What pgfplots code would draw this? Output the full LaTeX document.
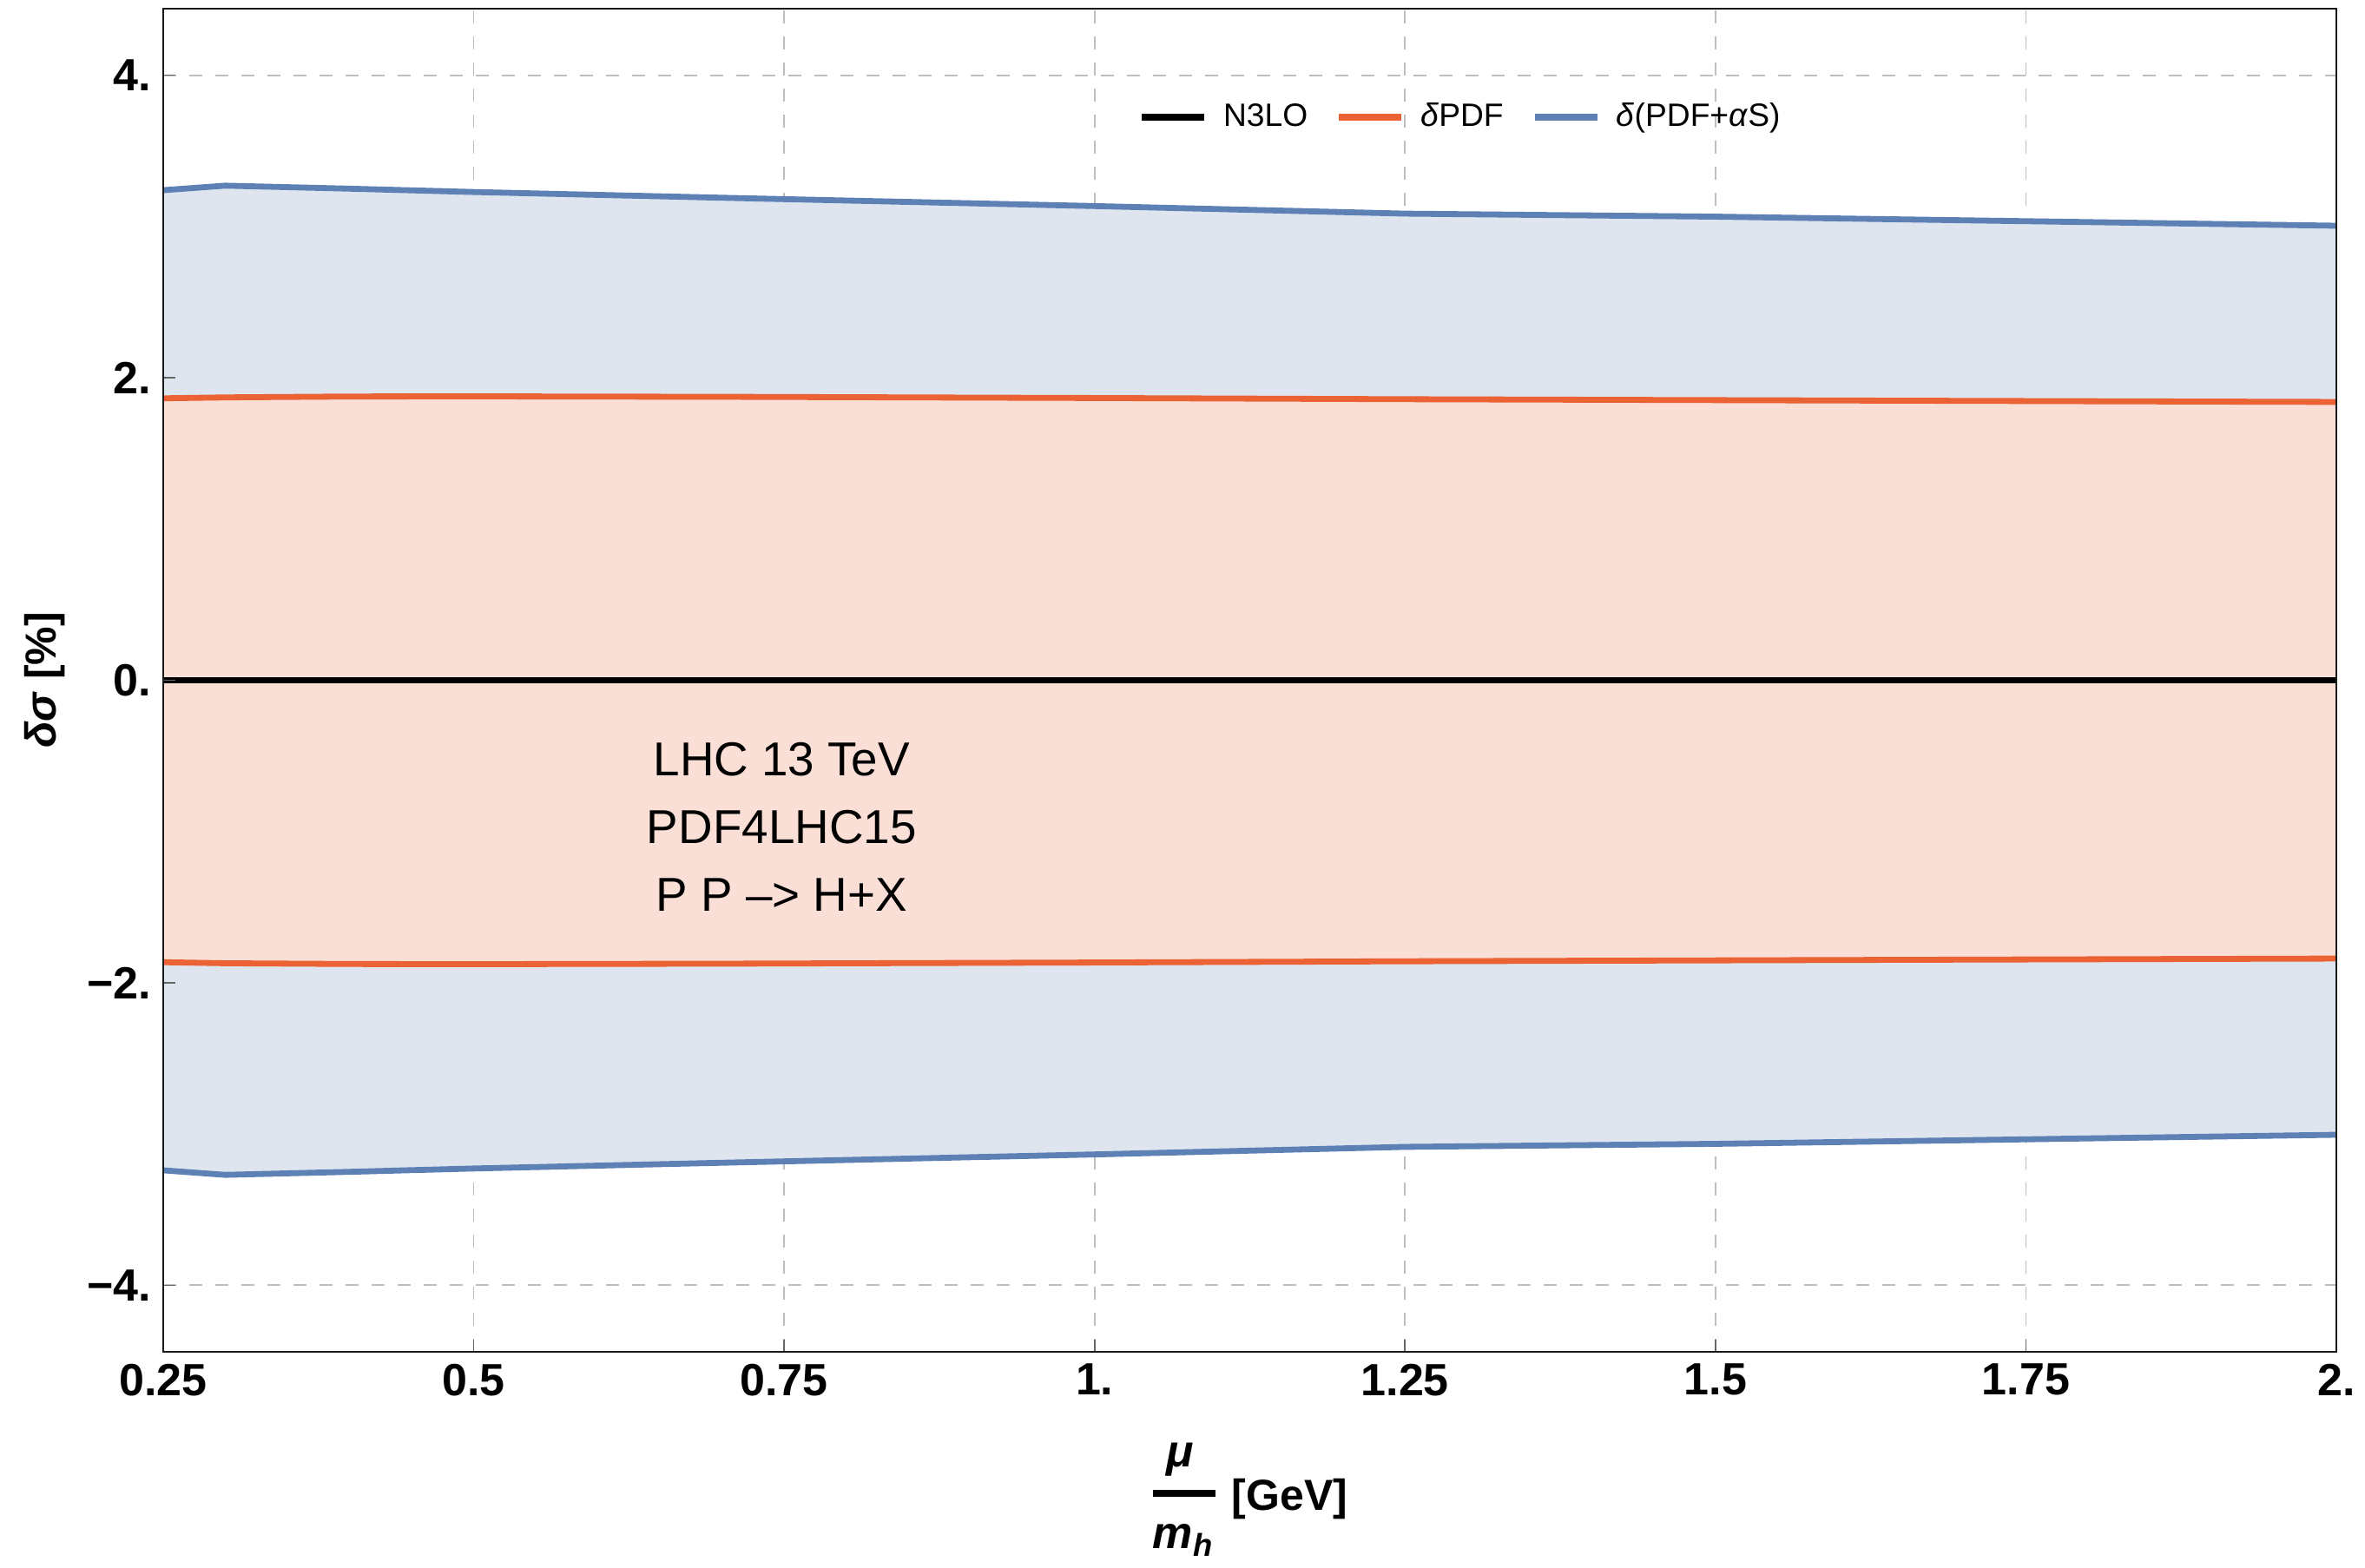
\documentclass[border=0pt]{standalone}
\usepackage{fontspec}
\setmainfont{Liberation Sans}
\usepackage{pgfplots}
\usepackage{pgfplotstable}
\pgfplotsset{compat=1.18}
\usepgfplotslibrary{fillbetween}
\definecolor{mblue}{HTML}{5E81B5}
\definecolor{morange}{HTML}{EB6235}
\definecolor{bluefill}{RGB}{223,229,239}
\definecolor{orangefill}{RGB}{250,223,215}
\definecolor{gridgray}{RGB}{190,190,190}
\pgfplotsset{
  layers/gridbelow/.define layer set={
    axis background,axis grid,pre main,main,axis ticks,axis lines,axis tick labels,axis descriptions,axis foreground
  }{
    grid style={/pgfplots/on layer=axis grid},
    tick style={/pgfplots/on layer=axis ticks},
    axis line style={/pgfplots/on layer=axis lines},
    label style={/pgfplots/on layer=axis descriptions},
    legend style={/pgfplots/on layer=axis descriptions},
    title style={/pgfplots/on layer=axis descriptions},
    colorbar style={/pgfplots/on layer=axis descriptions},
    ticklabel style={/pgfplots/on layer=axis tick labels},
    axis background@ style={/pgfplots/on layer=axis background},
    3d box foreground style={/pgfplots/on layer=axis foreground},
  },
}
\pgfplotstableread{
x    bup    bdn     oup    odn
0.25 3.240 -3.240  1.864 -1.864
0.30 3.270 -3.270  1.870 -1.871
0.40 3.250 -3.250  1.876 -1.876
0.50 3.228 -3.228  1.877 -1.877
0.70 3.190 -3.190  1.874 -1.874
1.00 3.135 -3.135  1.866 -1.866
1.25 3.085 -3.085  1.858 -1.858
1.50 3.065 -3.065  1.852 -1.852
1.75 3.035 -3.035  1.846 -1.846
2.00 3.005 -3.005  1.840 -1.840
}\data
\begin{document}
\begin{tikzpicture}
\begin{axis}[
  set layers=gridbelow,
  scale only axis,
  width=625.75pt, height=386.75pt,
  xmin=0.25, xmax=2, ymin=-4.44, ymax=4.44,
  xtick={0.25,0.5,0.75,1,1.25,1.5,1.75,2},
  xticklabels={0.25,0.5,0.75,1.,1.25,1.5,1.75,2.},
  ytick={-4,-2,0,2,4},
  yticklabels={−4.,−2.,0.,2.,4.},
  xtick pos=left, ytick pos=left,
  tick align=inside,
  major tick length=3.5pt,
  minor tick num=0,
  tick style={black!60, line width=0.4pt},
  grid=major,
  major grid style={gridgray, line width=0.45pt, dash pattern=on 3.75pt off 3.75pt},
  axis line style={black!90, line width=0.45pt},
  ticklabel style={font=\fontsize{13}{15}\selectfont\bfseries},
  ylabel={\textbf{\textit{δσ} [\%]}},
  ylabel style={at={(axis description cs:-0.0543,0.5)}, anchor=center, font=\fontsize{12.5}{14}\selectfont},
  legend columns=3,
  legend image code/.code={\draw[#1] (0pt,0pt) -- (18pt,0pt);},
  legend style={draw=none, fill=none, at={(0.598,0.919)}, anchor=center,
    font=\fontsize{9.3}{11}\selectfont, inner sep=0pt,
    /tikz/every odd column/.append style={column sep=2.5pt},
    /tikz/every even column/.append style={column sep=6pt}},
]
\addplot[name path=bu, draw=none, forget plot] table[x=x,y=bup] {\data};
\addplot[name path=bd, draw=none, forget plot] table[x=x,y=bdn] {\data};
\addplot[name path=ou, draw=none, forget plot] table[x=x,y=oup] {\data};
\addplot[name path=od, draw=none, forget plot] table[x=x,y=odn] {\data};
\addplot[fill=bluefill, draw=none, forget plot] fill between[of=bu and bd];
\addplot[fill=orangefill, draw=none, forget plot] fill between[of=ou and od];
\addplot[mblue, line width=1.7pt, forget plot] table[x=x,y=bup] {\data};
\addplot[mblue, line width=1.7pt, forget plot] table[x=x,y=bdn] {\data};
\addplot[morange, line width=1.7pt, forget plot] table[x=x,y=oup] {\data};
\addplot[morange, line width=1.7pt, forget plot] table[x=x,y=odn] {\data};
\addplot[black, line width=1.8pt, forget plot] coordinates {(0.25,0) (2,0)};
\addlegendimage{black, line width=2pt}
\addlegendentry{N3LO}
\addlegendimage{morange, line width=2pt}
\addlegendentry{\textit{δ}PDF}
\addlegendimage{mblue, line width=2pt}
\addlegendentry{\textit{δ}(PDF+\textit{α}S)}
\node[align=center, font=\fontsize{13.7}{19.5}\selectfont] at (axis cs:0.748,-0.967) {LHC 13 TeV\\PDF4LHC15\\P P –> H+X};
\coordinate (sw) at (rel axis cs:0,0);
\coordinate (ne) at (rel axis cs:1,1);
\end{axis}
% x-axis label: mu / m_h [GeV]
\node[anchor=base, inner sep=0pt, font=\fontsize{13}{15}\selectfont\bfseries\itshape] at ([shift={(292.75pt,-33pt)}]sw) {μ};
\draw[black, line width=2pt] ([shift={(285pt,-40.75pt)}]sw) -- ([shift={(303pt,-40.75pt)}]sw);
\node[anchor=base west, inner sep=0pt, font=\fontsize{13}{15}\selectfont\bfseries\itshape] at ([shift={(284.75pt,-56.5pt)}]sw) {m\textsubscript{h}};
\node[anchor=base west, inner sep=0pt, font=\fontsize{12.5}{14}\selectfont\bfseries] at ([shift={(307.5pt,-45.5pt)}]sw) {[GeV]};
\pgfresetboundingbox
\path[use as bounding box] ([shift={(-47pt,-62pt)}]sw) rectangle ([shift={(8.25pt,2.5pt)}]ne);
\end{tikzpicture}
\end{document}
